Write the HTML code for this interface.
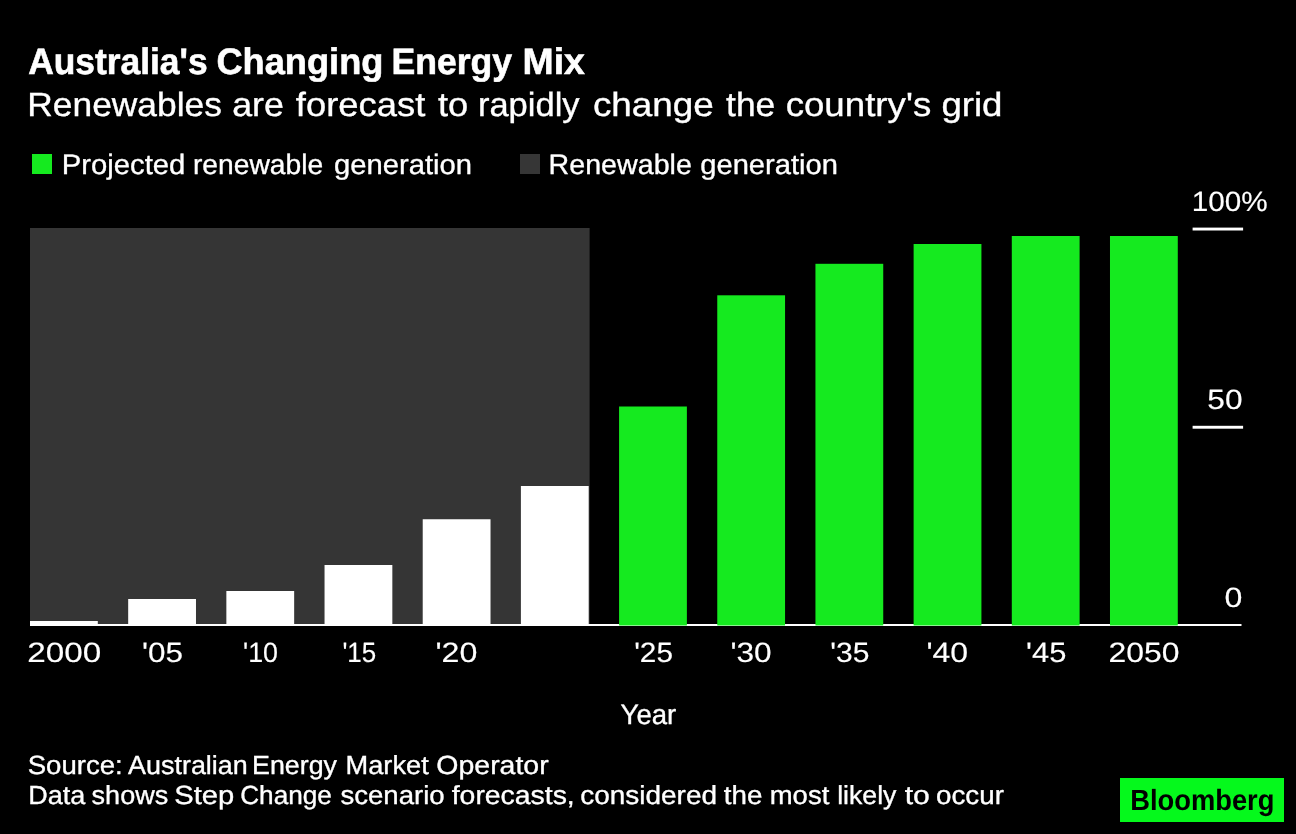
<!DOCTYPE html>
<html lang="en">
<head>
<meta charset="utf-8">
<title>Australia's Changing Energy Mix</title>
<style>
html,body{margin:0;padding:0;background:#000;}
body{width:1296px;height:834px;overflow:hidden;}
svg{display:block;}
text{font-family:"Liberation Sans",sans-serif;text-rendering:geometricPrecision;}
</style>
</head>
<body>
<svg width="1296" height="834" viewBox="0 0 1296 834">
<rect x="0" y="0" width="1296" height="834" fill="#000"/>
<g id="legend-swatches">
<rect x="32" y="154" width="20" height="20" fill="#15EA1F"/>
<rect x="520" y="154" width="20" height="20" fill="#363636"/>
</g>
<g id="plot">
<rect x="30" y="228" width="559.6" height="397" fill="#353535"/>
<rect x="30" y="624" width="1211.5" height="2" fill="#fff"/>
<rect x="1192.6" y="227.6" width="50.5" height="2.9" fill="#fff"/>
<rect x="1192.6" y="425.8" width="50.5" height="2.9" fill="#fff"/>
<rect x="30.00" y="621" width="67.8" height="5.00" fill="#fff"/>
<rect x="128.18" y="599" width="67.8" height="27.00" fill="#fff"/>
<rect x="226.36" y="591" width="67.8" height="35.00" fill="#fff"/>
<rect x="324.54" y="565" width="67.8" height="61.00" fill="#fff"/>
<rect x="422.72" y="519.25" width="67.8" height="106.75" fill="#fff"/>
<rect x="520.90" y="486" width="67.8" height="140.00" fill="#fff"/>
<rect x="619.08" y="406.5" width="67.8" height="219.00" fill="#15EA1F"/>
<rect x="717.26" y="295.3" width="67.8" height="330.20" fill="#15EA1F"/>
<rect x="815.44" y="263.8" width="67.8" height="361.70" fill="#15EA1F"/>
<rect x="913.62" y="244" width="67.8" height="381.50" fill="#15EA1F"/>
<rect x="1011.80" y="236" width="67.8" height="389.50" fill="#15EA1F"/>
<rect x="1109.98" y="236" width="67.8" height="389.50" fill="#15EA1F"/>
</g>
<g id="brand">
<rect x="1120" y="778" width="164" height="44" fill="#05F91C"/>
</g>
<g id="labels">
<text id="title" y="74.00" font-size="36.80" font-weight="700" fill="#fff" stroke="#fff" stroke-width="0.6"><tspan x="28.15" textLength="179.51" lengthAdjust="spacingAndGlyphs">Australia's</tspan> <tspan x="216.42" textLength="166.98" lengthAdjust="spacingAndGlyphs">Changing</tspan> <tspan x="391.39" textLength="120.74" lengthAdjust="spacingAndGlyphs">Energy</tspan> <tspan x="522.58" textLength="62.30" lengthAdjust="spacingAndGlyphs">Mix</tspan></text>
<text id="sub" y="116.00" font-size="33.60" fill="#fff" stroke="#fff" stroke-width="0.35"><tspan x="27.32" textLength="194.58" lengthAdjust="spacingAndGlyphs">Renewables</tspan> <tspan x="232.24" textLength="51.66" lengthAdjust="spacingAndGlyphs">are</tspan> <tspan x="295.88" textLength="129.37" lengthAdjust="spacingAndGlyphs">forecast</tspan> <tspan x="438.05" textLength="30.25" lengthAdjust="spacingAndGlyphs">to</tspan> <tspan x="477.90" textLength="101.75" lengthAdjust="spacingAndGlyphs">rapidly</tspan> <tspan x="592.92" textLength="120.91" lengthAdjust="spacingAndGlyphs">change</tspan> <tspan x="726.07" textLength="49.21" lengthAdjust="spacingAndGlyphs">the</tspan> <tspan x="785.65" textLength="145.58" lengthAdjust="spacingAndGlyphs">country's</tspan> <tspan x="941.40" textLength="61.13" lengthAdjust="spacingAndGlyphs">grid</tspan></text>
<text id="leg1" y="174.00" font-size="28.00" fill="#fff" stroke="#fff" stroke-width="0.35"><tspan x="61.77" textLength="123.61" lengthAdjust="spacingAndGlyphs">Projected</tspan> <tspan x="192.95" textLength="130.27" lengthAdjust="spacingAndGlyphs">renewable</tspan> <tspan x="334.01" textLength="138.06" lengthAdjust="spacingAndGlyphs">generation</tspan></text>
<text id="leg2" y="174.00" font-size="28.00" fill="#fff" stroke="#fff" stroke-width="0.35"><tspan x="548.60" textLength="143.25" lengthAdjust="spacingAndGlyphs">Renewable</tspan> <tspan x="700.24" textLength="137.76" lengthAdjust="spacingAndGlyphs">generation</tspan></text>
<text id="y100" y="211.00" font-size="27.90" fill="#fff" stroke="#fff" stroke-width="0.15"><tspan x="1191.84" textLength="75.96" lengthAdjust="spacingAndGlyphs">100%</tspan></text>
<text id="y50" y="409.00" font-size="27.90" fill="#fff" stroke="#fff" stroke-width="0.15"><tspan x="1207.38" textLength="35.27" lengthAdjust="spacingAndGlyphs">50</tspan></text>
<text id="y0" y="607.00" font-size="27.90" fill="#fff" stroke="#fff" stroke-width="0.15"><tspan x="1224.41" textLength="17.86" lengthAdjust="spacingAndGlyphs">0</tspan></text>
<text id="x2000" y="662.00" font-size="27.90" fill="#fff" stroke="#fff" stroke-width="0.15"><tspan x="27.37" textLength="74.00" lengthAdjust="spacingAndGlyphs">2000</tspan></text>
<text id="x05" y="662.00" font-size="27.90" fill="#fff" stroke="#fff" stroke-width="0.15"><tspan x="142.06" textLength="41.04" lengthAdjust="spacingAndGlyphs">'05</tspan></text>
<text id="x10" y="662.00" font-size="27.90" fill="#fff" stroke="#fff" stroke-width="0.15"><tspan x="243.03" textLength="34.98" lengthAdjust="spacingAndGlyphs">'10</tspan></text>
<text id="x15" y="662.00" font-size="27.90" fill="#fff" stroke="#fff" stroke-width="0.15"><tspan x="342.40" textLength="33.83" lengthAdjust="spacingAndGlyphs">'15</tspan></text>
<text id="x20" y="662.00" font-size="27.90" fill="#fff" stroke="#fff" stroke-width="0.15"><tspan x="435.41" textLength="41.93" lengthAdjust="spacingAndGlyphs">'20</tspan></text>
<text id="x25" y="662.00" font-size="27.90" fill="#fff" stroke="#fff" stroke-width="0.15"><tspan x="634.20" textLength="38.78" lengthAdjust="spacingAndGlyphs">'25</tspan></text>
<text id="x30" y="662.00" font-size="27.90" fill="#fff" stroke="#fff" stroke-width="0.15"><tspan x="730.42" textLength="41.19" lengthAdjust="spacingAndGlyphs">'30</tspan></text>
<text id="x35" y="662.00" font-size="27.90" fill="#fff" stroke="#fff" stroke-width="0.15"><tspan x="830.24" textLength="39.13" lengthAdjust="spacingAndGlyphs">'35</tspan></text>
<text id="x40" y="662.00" font-size="27.90" fill="#fff" stroke="#fff" stroke-width="0.15"><tspan x="926.41" textLength="41.66" lengthAdjust="spacingAndGlyphs">'40</tspan></text>
<text id="x45" y="662.00" font-size="27.90" fill="#fff" stroke="#fff" stroke-width="0.15"><tspan x="1026.09" textLength="40.25" lengthAdjust="spacingAndGlyphs">'45</tspan></text>
<text id="x2050" y="662.00" font-size="27.90" fill="#fff" stroke="#fff" stroke-width="0.15"><tspan x="1108.49" textLength="70.94" lengthAdjust="spacingAndGlyphs">2050</tspan></text>
<text id="year" y="724.00" font-size="28.00" fill="#fff" stroke="#fff" stroke-width="0.35"><tspan x="620.54" textLength="55.71" lengthAdjust="spacingAndGlyphs">Year</tspan></text>
<text id="src1" y="774.00" font-size="26.10" fill="#fff" stroke="#fff" stroke-width="0.35"><tspan x="27.67" textLength="95.04" lengthAdjust="spacingAndGlyphs">Source:</tspan> <tspan x="128.08" textLength="119.71" lengthAdjust="spacingAndGlyphs">Australian</tspan> <tspan x="252.00" textLength="84.95" lengthAdjust="spacingAndGlyphs">Energy</tspan> <tspan x="345.57" textLength="83.14" lengthAdjust="spacingAndGlyphs">Market</tspan> <tspan x="436.36" textLength="112.31" lengthAdjust="spacingAndGlyphs">Operator</tspan></text>
<text id="src2" y="804.00" font-size="26.10" fill="#fff" stroke="#fff" stroke-width="0.35"><tspan x="28.17" textLength="57.04" lengthAdjust="spacingAndGlyphs">Data</tspan> <tspan x="91.64" textLength="76.54" lengthAdjust="spacingAndGlyphs">shows</tspan> <tspan x="174.25" textLength="59.96" lengthAdjust="spacingAndGlyphs">Step</tspan> <tspan x="240.16" textLength="91.75" lengthAdjust="spacingAndGlyphs">Change</tspan> <tspan x="340.44" textLength="104.26" lengthAdjust="spacingAndGlyphs">scenario</tspan> <tspan x="451.73" textLength="123.04" lengthAdjust="spacingAndGlyphs">forecasts,</tspan> <tspan x="580.27" textLength="136.70" lengthAdjust="spacingAndGlyphs">considered</tspan> <tspan x="723.77" textLength="38.58" lengthAdjust="spacingAndGlyphs">the</tspan> <tspan x="769.74" textLength="59.53" lengthAdjust="spacingAndGlyphs">most</tspan> <tspan x="837.16" textLength="59.29" lengthAdjust="spacingAndGlyphs">likely</tspan> <tspan x="904.69" textLength="25.12" lengthAdjust="spacingAndGlyphs">to</tspan> <tspan x="936.10" textLength="67.77" lengthAdjust="spacingAndGlyphs">occur</tspan></text>
<text id="logo" y="809.50" font-size="29.20" font-weight="700" fill="#000" stroke="#000" stroke-width="0.0"><tspan x="1130.15" textLength="144.28" lengthAdjust="spacingAndGlyphs">Bloomberg</tspan></text>
</g>
</svg>
</body>
</html>
